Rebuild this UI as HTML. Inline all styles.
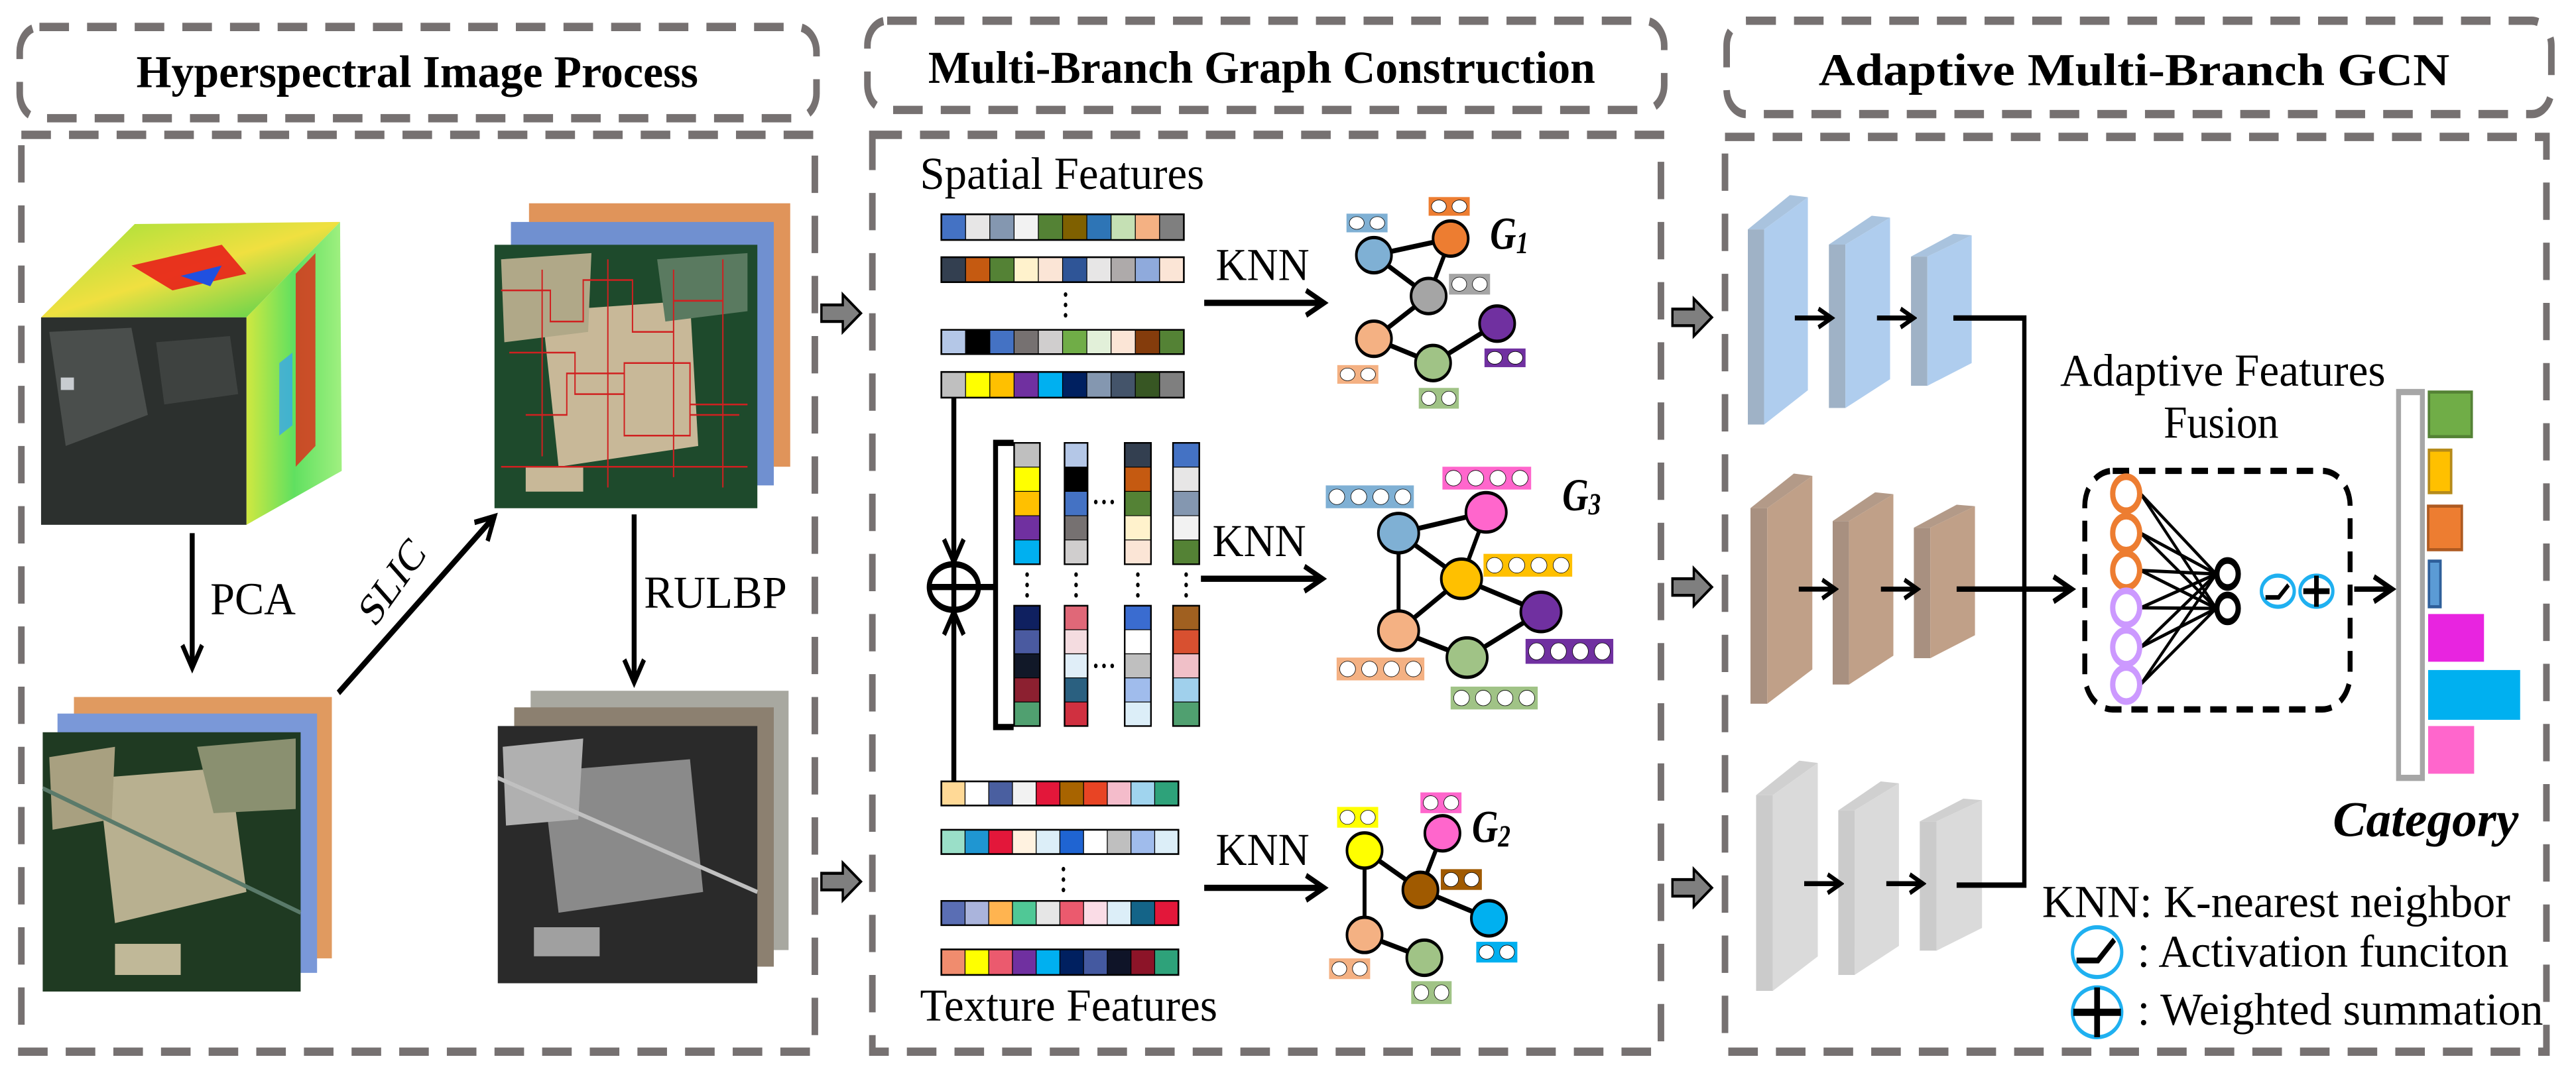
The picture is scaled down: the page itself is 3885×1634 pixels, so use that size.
<!DOCTYPE html>
<html><head><meta charset="utf-8"><style>
html,body{margin:0;padding:0;background:#fff;}
svg{display:block;}
text{font-family:"Liberation Serif",serif;}
</style></head><body>
<svg xmlns="http://www.w3.org/2000/svg" xmlns:xlink="http://www.w3.org/1999/xlink" width="3885" height="1634" viewBox="0 0 1568 659.5" preserveAspectRatio="none">
<defs>
<marker id="ah" markerUnits="userSpaceOnUse" markerWidth="16" markerHeight="16" refX="13" refY="8" orient="auto">
<path d="M2,2 L13,8 L2,14" fill="none" stroke="#000" stroke-width="2.6"/>
</marker>
<marker id="as" markerUnits="userSpaceOnUse" markerWidth="12" markerHeight="12" refX="10" refY="6" orient="auto">
<path d="M2,1.5 L10,6 L2,10.5" fill="none" stroke="#000" stroke-width="2.2"/>
</marker>
<linearGradient id="topg" x1="0" y1="0" x2="1" y2="1"><stop offset="0" stop-color="#9be23a"/><stop offset="0.5" stop-color="#f0e040"/><stop offset="1" stop-color="#3ad050"/></linearGradient>
<linearGradient id="rgtg" x1="0" y1="0" x2="1" y2="0"><stop offset="0" stop-color="#d0e840"/><stop offset="0.5" stop-color="#60e060"/><stop offset="1" stop-color="#a0f080"/></linearGradient>
<symbol id="bb" viewBox="0 0 100 100" preserveAspectRatio="none"><polygon points="0,15 70,0 100,1 27,15" fill="#a9c3de"/><polygon points="0,15 27,15 27,100 0,100" fill="#9fb2c6"/><polygon points="27,15 100,1 100,85 27,100" fill="#afcdee"/></symbol>
<symbol id="br" viewBox="0 0 100 100" preserveAspectRatio="none"><polygon points="0,15 70,0 100,1 27,15" fill="#b39a88"/><polygon points="0,15 27,15 27,100 0,100" fill="#a89080"/><polygon points="27,15 100,1 100,85 27,100" fill="#c0a088"/></symbol>
<symbol id="bg" viewBox="0 0 100 100" preserveAspectRatio="none"><polygon points="0,15 70,0 100,1 27,15" fill="#d0d0d0"/><polygon points="0,15 27,15 27,100 0,100" fill="#cbcbcb"/><polygon points="27,15 100,1 100,85 27,100" fill="#dadada"/></symbol>
<symbol id="l2" viewBox="0 0 2 1" preserveAspectRatio="none"><g fill="#fff" stroke="#000" stroke-width="0.8" vector-effect="non-scaling-stroke"><ellipse cx="0.5" cy="0.5" rx="0.36" ry="0.34" vector-effect="non-scaling-stroke"/><ellipse cx="1.5" cy="0.5" rx="0.36" ry="0.34" vector-effect="non-scaling-stroke"/></g></symbol>
<symbol id="l4" viewBox="0 0 4 1" preserveAspectRatio="none"><g fill="#fff" stroke="#000" stroke-width="0.8"><ellipse cx="0.5" cy="0.5" rx="0.36" ry="0.34" vector-effect="non-scaling-stroke"/><ellipse cx="1.5" cy="0.5" rx="0.36" ry="0.34" vector-effect="non-scaling-stroke"/><ellipse cx="2.5" cy="0.5" rx="0.36" ry="0.34" vector-effect="non-scaling-stroke"/><ellipse cx="3.5" cy="0.5" rx="0.36" ry="0.34" vector-effect="non-scaling-stroke"/></g></symbol>
</defs>
<g transform="scale(1,1.2632)">

<!-- panel frames -->
<g fill="none" stroke="#767171" stroke-width="4" stroke-dasharray="18 11">
<rect x="12" y="13" width="485" height="44" rx="12"/>
<rect x="13" y="65" width="483" height="442"/>
<rect x="528" y="10" width="485" height="43" rx="12"/>
<rect x="531" y="65" width="480" height="442"/>
<rect x="1051" y="10" width="502" height="45" rx="12"/>
<rect x="1050" y="66" width="500" height="441"/>
</g>
<g font-weight="bold" font-size="22">
<text x="83" y="42" textLength="342" lengthAdjust="spacingAndGlyphs">Hyperspectral Image Process</text>
<text x="565" y="40" textLength="406" lengthAdjust="spacingAndGlyphs">Multi-Branch Graph Construction</text>
<text x="1107" y="41" textLength="384" lengthAdjust="spacingAndGlyphs">Adaptive Multi-Branch GCN</text>
</g>

<!-- cube -->
<polygon points="25,153 82,108 207,107 150,153" fill="url(#topg)"/>
<polygon points="150,153 207,107 208,227 150,253" fill="url(#rgtg)"/>
<polygon points="80,128 135,118 150,132 105,140" fill="#e8201a" opacity="0.9"/>
<polygon points="110,133 135,128 128,138" fill="#2050e0"/>
<polygon points="180,132 192,122 192,215 180,225" fill="#e02818" opacity="0.8"/>
<polygon points="170,175 178,170 178,205 170,210" fill="#30a0ff" opacity="0.7"/>
<rect x="25" y="153" width="125" height="100" fill="#2c302e"/>
<polygon points="30,160 80,158 90,200 40,215" fill="#4a4e4c"/>
<polygon points="95,165 140,162 145,190 100,195" fill="#3e4240"/>
<rect x="37" y="182" width="8" height="6" fill="#c8ccd0"/>
<!-- bottom-left stack -->
<rect x="45" y="336" width="157" height="126" fill="#e09a60"/>
<rect x="35" y="344" width="158" height="125" fill="#7a98d8"/>
<rect x="26" y="353" width="157" height="125" fill="#1f3a22"/>
<polygon points="60,375 140,370 150,430 70,445" fill="#b8b090"/>
<polygon points="30,365 70,360 68,395 32,400" fill="#a8a080"/>
<polygon points="120,360 180,356 180,390 130,392" fill="#8a9070"/>
<rect x="70" y="455" width="40" height="15" fill="#c0b898"/>
<line x1="26" y1="380" x2="183" y2="440" stroke="#5a7a6a" stroke-width="2"/>
<!-- top-right stack -->
<rect x="322" y="98" width="159" height="127" fill="#e0945a"/>
<rect x="311" y="107" width="160" height="127" fill="#7090d0"/>
<rect x="301" y="118" width="160" height="127" fill="#1e4a2c"/>
<polygon points="330,150 420,145 425,215 340,225" fill="#c8b898"/>
<polygon points="305,125 360,122 358,160 307,165" fill="#b0a888"/>
<polygon points="400,125 455,122 455,150 405,155" fill="#5a7a60"/>
<rect x="320" y="225" width="35" height="12" fill="#c8b898"/>
<path fill="none" stroke="#d02020" stroke-width="0.8" d="M305,140 h30 v15 h20 v-20 h30 v25 h25 v-15 h30 M310,170 h40 v20 h30 v-15 h40 v25 h30 M320,200 h25 v-20 h35 v30 h40 v-15 h35 M330,130 v90 M370,125 v110 M410,130 v100 M440,125 v110 M305,225 h150"/>
<!-- gray stack -->
<rect x="323" y="333" width="157" height="125" fill="#a8a8a0"/>
<rect x="313" y="341" width="158" height="125" fill="#8c8070"/>
<rect x="303" y="350" width="158" height="124" fill="#2a2a2a"/>
<polygon points="330,372 420,366 428,430 340,440" fill="#8a8a8a"/>
<polygon points="306,360 355,356 352,395 308,398" fill="#b0b0b0"/>
<rect x="325" y="447" width="40" height="14" fill="#a0a0a0"/>
<line x1="303" y1="375" x2="461" y2="430" stroke="#c0c0c0" stroke-width="2"/>
<!-- panel1 arrows -->
<g stroke="#000" stroke-width="3" fill="none">
<line x1="117" y1="257" x2="117" y2="322" marker-end="url(#ah)"/>
<line x1="206" y1="334" x2="301" y2="249" marker-end="url(#ah)"/>
<line x1="386" y1="248" x2="386" y2="329" marker-end="url(#ah)"/>
</g>
<g font-size="22">
<text x="128" y="296" textLength="52" lengthAdjust="spacingAndGlyphs">PCA</text>
<text x="392" y="293" textLength="87" lengthAdjust="spacingAndGlyphs">RULBP</text>
<text transform="translate(228,303) rotate(-48)" textLength="48" lengthAdjust="spacingAndGlyphs">SLIC</text>
</g>

<!-- block arrows -->
<g fill="#7f7f7f" stroke="#000" stroke-width="1.4">
<polygon points="500,147 513,147 513,142 524,151 513,160 513,155 500,155"/>
<polygon points="500,421 513,421 513,416 524,425 513,434 513,429 500,429"/>
<polygon points="1018,149 1031,149 1031,144 1042,153 1031,162 1031,157 1018,157"/>
<polygon points="1018,279 1031,279 1031,274 1042,283 1031,292 1031,287 1018,287"/>
<polygon points="1018,424 1031,424 1031,419 1042,428 1031,437 1031,432 1018,432"/>
</g>

<!-- Panel 2 text -->
<g font-size="22">
<text x="560" y="91" textLength="173" lengthAdjust="spacingAndGlyphs">Spatial Features</text>
<text x="560" y="492" textLength="181" lengthAdjust="spacingAndGlyphs">Texture Features</text>
<text x="740" y="135" textLength="57" lengthAdjust="spacingAndGlyphs">KNN</text>
<text x="738" y="268" textLength="57" lengthAdjust="spacingAndGlyphs">KNN</text>
<text x="740" y="417" textLength="57" lengthAdjust="spacingAndGlyphs">KNN</text>
</g>
<g font-size="22" font-weight="bold" font-style="italic">
<text x="907" y="120">G<tspan font-size="15" dy="2">1</tspan></text>
<text x="951" y="246">G<tspan font-size="15" dy="2">3</tspan></text>
<text x="896" y="406">G<tspan font-size="15" dy="2">2</tspan></text>
</g>
<g stroke="#000" stroke-width="3" fill="none">
<line x1="733" y1="146" x2="806" y2="146" marker-end="url(#ah)"/>
<line x1="731" y1="279" x2="805" y2="279" marker-end="url(#ah)"/>
<line x1="733" y1="428" x2="806" y2="428" marker-end="url(#ah)"/>
<line x1="580.6" y1="192" x2="580.6" y2="271" marker-end="url(#ah)"/>
<line x1="580.6" y1="377" x2="580.6" y2="295" marker-end="url(#ah)"/>
<ellipse cx="580.6" cy="283" rx="15" ry="11"/>
<line x1="565.6" y1="283" x2="595.6" y2="283"/>
<line x1="580.6" y1="272" x2="580.6" y2="294"/>
<line x1="595.6" y1="283" x2="606" y2="283"/>
<polyline points="617,213.5 606,213.5 606,350.5 617,350.5"/>
</g>

<!-- feature rows -->
<g stroke="#000" stroke-width="1.2">
<svg x="573" y="103.3" width="147.6" height="12.4" viewBox="0 0 10 1" preserveAspectRatio="none" overflow="visible"><g vector-effect="non-scaling-stroke"><rect x="0" width="1" height="1" fill="#4472c4" vector-effect="non-scaling-stroke"/><rect x="1" width="1" height="1" fill="#e7e6e6" vector-effect="non-scaling-stroke"/><rect x="2" width="1" height="1" fill="#8497b0" vector-effect="non-scaling-stroke"/><rect x="3" width="1" height="1" fill="#f2f2f2" vector-effect="non-scaling-stroke"/><rect x="4" width="1" height="1" fill="#548235" vector-effect="non-scaling-stroke"/><rect x="5" width="1" height="1" fill="#7f6000" vector-effect="non-scaling-stroke"/><rect x="6" width="1" height="1" fill="#2e75b6" vector-effect="non-scaling-stroke"/><rect x="7" width="1" height="1" fill="#c5e0b4" vector-effect="non-scaling-stroke"/><rect x="8" width="1" height="1" fill="#f4b183" vector-effect="non-scaling-stroke"/><rect x="9" width="1" height="1" fill="#7f7f7f" vector-effect="non-scaling-stroke"/><rect width="10" height="1" fill="none" stroke-width="2.6" vector-effect="non-scaling-stroke"/></g></svg>
<svg x="573" y="124" width="147.6" height="12" viewBox="0 0 10 1" preserveAspectRatio="none" overflow="visible"><rect x="0" width="1" height="1" fill="#333f50" vector-effect="non-scaling-stroke"/><rect x="1" width="1" height="1" fill="#c55a11" vector-effect="non-scaling-stroke"/><rect x="2" width="1" height="1" fill="#548235" vector-effect="non-scaling-stroke"/><rect x="3" width="1" height="1" fill="#fff2cc" vector-effect="non-scaling-stroke"/><rect x="4" width="1" height="1" fill="#fbe5d6" vector-effect="non-scaling-stroke"/><rect x="5" width="1" height="1" fill="#2f5597" vector-effect="non-scaling-stroke"/><rect x="6" width="1" height="1" fill="#e7e6e6" vector-effect="non-scaling-stroke"/><rect x="7" width="1" height="1" fill="#aeaaaa" vector-effect="non-scaling-stroke"/><rect x="8" width="1" height="1" fill="#8faadc" vector-effect="non-scaling-stroke"/><rect x="9" width="1" height="1" fill="#fbe5d6" vector-effect="non-scaling-stroke"/><rect width="10" height="1" fill="none" stroke-width="2.6" vector-effect="non-scaling-stroke"/></svg>
<svg x="573" y="159" width="147.6" height="11.7" viewBox="0 0 10 1" preserveAspectRatio="none" overflow="visible"><rect x="0" width="1" height="1" fill="#b4c7e7" vector-effect="non-scaling-stroke"/><rect x="1" width="1" height="1" fill="#000" vector-effect="non-scaling-stroke"/><rect x="2" width="1" height="1" fill="#4472c4" vector-effect="non-scaling-stroke"/><rect x="3" width="1" height="1" fill="#767171" vector-effect="non-scaling-stroke"/><rect x="4" width="1" height="1" fill="#d0cece" vector-effect="non-scaling-stroke"/><rect x="5" width="1" height="1" fill="#70ad47" vector-effect="non-scaling-stroke"/><rect x="6" width="1" height="1" fill="#e2f0d9" vector-effect="non-scaling-stroke"/><rect x="7" width="1" height="1" fill="#fbe5d6" vector-effect="non-scaling-stroke"/><rect x="8" width="1" height="1" fill="#843c0c" vector-effect="non-scaling-stroke"/><rect x="9" width="1" height="1" fill="#548235" vector-effect="non-scaling-stroke"/><rect width="10" height="1" fill="none" stroke-width="2.6" vector-effect="non-scaling-stroke"/></svg>
<svg x="573" y="179.3" width="147.6" height="12.4" viewBox="0 0 10 1" preserveAspectRatio="none" overflow="visible"><rect x="0" width="1" height="1" fill="#bfbfbf" vector-effect="non-scaling-stroke"/><rect x="1" width="1" height="1" fill="#ffff00" vector-effect="non-scaling-stroke"/><rect x="2" width="1" height="1" fill="#ffc000" vector-effect="non-scaling-stroke"/><rect x="3" width="1" height="1" fill="#7030a0" vector-effect="non-scaling-stroke"/><rect x="4" width="1" height="1" fill="#00b0f0" vector-effect="non-scaling-stroke"/><rect x="5" width="1" height="1" fill="#002060" vector-effect="non-scaling-stroke"/><rect x="6" width="1" height="1" fill="#8497b0" vector-effect="non-scaling-stroke"/><rect x="7" width="1" height="1" fill="#44546a" vector-effect="non-scaling-stroke"/><rect x="8" width="1" height="1" fill="#375623" vector-effect="non-scaling-stroke"/><rect x="9" width="1" height="1" fill="#7f7f7f" vector-effect="non-scaling-stroke"/><rect width="10" height="1" fill="none" stroke-width="2.6" vector-effect="non-scaling-stroke"/></svg>
<svg x="573" y="376.7" width="144.3" height="11.6" viewBox="0 0 10 1" preserveAspectRatio="none" overflow="visible"><rect x="0" width="1" height="1" fill="#ffd996" vector-effect="non-scaling-stroke"/><rect x="1" width="1" height="1" fill="#ffffff" vector-effect="non-scaling-stroke"/><rect x="2" width="1" height="1" fill="#4a5fa0" vector-effect="non-scaling-stroke"/><rect x="3" width="1" height="1" fill="#f2f2f2" vector-effect="non-scaling-stroke"/><rect x="4" width="1" height="1" fill="#e3173a" vector-effect="non-scaling-stroke"/><rect x="5" width="1" height="1" fill="#a86400" vector-effect="non-scaling-stroke"/><rect x="6" width="1" height="1" fill="#e84424" vector-effect="non-scaling-stroke"/><rect x="7" width="1" height="1" fill="#f4bccb" vector-effect="non-scaling-stroke"/><rect x="8" width="1" height="1" fill="#a0d4ee" vector-effect="non-scaling-stroke"/><rect x="9" width="1" height="1" fill="#2ea27a" vector-effect="non-scaling-stroke"/><rect width="10" height="1" fill="none" stroke-width="2.6" vector-effect="non-scaling-stroke"/></svg>
<svg x="573" y="400" width="144.3" height="11.7" viewBox="0 0 10 1" preserveAspectRatio="none" overflow="visible"><rect x="0" width="1" height="1" fill="#9adfc8" vector-effect="non-scaling-stroke"/><rect x="1" width="1" height="1" fill="#1f96d2" vector-effect="non-scaling-stroke"/><rect x="2" width="1" height="1" fill="#e3173a" vector-effect="non-scaling-stroke"/><rect x="3" width="1" height="1" fill="#fff2e0" vector-effect="non-scaling-stroke"/><rect x="4" width="1" height="1" fill="#dceef8" vector-effect="non-scaling-stroke"/><rect x="5" width="1" height="1" fill="#1f64d2" vector-effect="non-scaling-stroke"/><rect x="6" width="1" height="1" fill="#ffffff" vector-effect="non-scaling-stroke"/><rect x="7" width="1" height="1" fill="#bfbfbf" vector-effect="non-scaling-stroke"/><rect x="8" width="1" height="1" fill="#a0bcec" vector-effect="non-scaling-stroke"/><rect x="9" width="1" height="1" fill="#dceef8" vector-effect="non-scaling-stroke"/><rect width="10" height="1" fill="none" stroke-width="2.6" vector-effect="non-scaling-stroke"/></svg>
<svg x="573" y="434.3" width="144.3" height="11.7" viewBox="0 0 10 1" preserveAspectRatio="none" overflow="visible"><rect x="0" width="1" height="1" fill="#5a6eb4" vector-effect="non-scaling-stroke"/><rect x="1" width="1" height="1" fill="#aab4dc" vector-effect="non-scaling-stroke"/><rect x="2" width="1" height="1" fill="#ffb450" vector-effect="non-scaling-stroke"/><rect x="3" width="1" height="1" fill="#50c896" vector-effect="non-scaling-stroke"/><rect x="4" width="1" height="1" fill="#e6e6e6" vector-effect="non-scaling-stroke"/><rect x="5" width="1" height="1" fill="#eb5a6e" vector-effect="non-scaling-stroke"/><rect x="6" width="1" height="1" fill="#fadce6" vector-effect="non-scaling-stroke"/><rect x="7" width="1" height="1" fill="#dceef8" vector-effect="non-scaling-stroke"/><rect x="8" width="1" height="1" fill="#146488" vector-effect="non-scaling-stroke"/><rect x="9" width="1" height="1" fill="#e3173a" vector-effect="non-scaling-stroke"/><rect width="10" height="1" fill="none" stroke-width="2.6" vector-effect="non-scaling-stroke"/></svg>
<svg x="573" y="457.7" width="144.3" height="12.3" viewBox="0 0 10 1" preserveAspectRatio="none" overflow="visible"><rect x="0" width="1" height="1" fill="#f08c6e" vector-effect="non-scaling-stroke"/><rect x="1" width="1" height="1" fill="#ffff00" vector-effect="non-scaling-stroke"/><rect x="2" width="1" height="1" fill="#eb5a6e" vector-effect="non-scaling-stroke"/><rect x="3" width="1" height="1" fill="#7030a0" vector-effect="non-scaling-stroke"/><rect x="4" width="1" height="1" fill="#00b0f0" vector-effect="non-scaling-stroke"/><rect x="5" width="1" height="1" fill="#002060" vector-effect="non-scaling-stroke"/><rect x="6" width="1" height="1" fill="#4459a0" vector-effect="non-scaling-stroke"/><rect x="7" width="1" height="1" fill="#0f1428" vector-effect="non-scaling-stroke"/><rect x="8" width="1" height="1" fill="#8c1428" vector-effect="non-scaling-stroke"/><rect x="9" width="1" height="1" fill="#2ea27a" vector-effect="non-scaling-stroke"/><rect width="10" height="1" fill="none" stroke-width="2.6" vector-effect="non-scaling-stroke"/></svg>

<!-- columns -->
<svg x="617.3" y="213.5" width="15.7" height="58.5" viewBox="0 0 1 5" preserveAspectRatio="none" overflow="visible"><rect y="0" width="1" height="1" fill="#bfbfbf" vector-effect="non-scaling-stroke"/><rect y="1" width="1" height="1" fill="#ffff00" vector-effect="non-scaling-stroke"/><rect y="2" width="1" height="1" fill="#ffc000" vector-effect="non-scaling-stroke"/><rect y="3" width="1" height="1" fill="#7030a0" vector-effect="non-scaling-stroke"/><rect y="4" width="1" height="1" fill="#00b0f0" vector-effect="non-scaling-stroke"/><rect width="1" height="5" fill="none" stroke-width="2.4" vector-effect="non-scaling-stroke"/></svg>
<svg x="617.3" y="292" width="15.7" height="58" viewBox="0 0 1 5" preserveAspectRatio="none" overflow="visible"><rect y="0" width="1" height="1" fill="#0f2060" vector-effect="non-scaling-stroke"/><rect y="1" width="1" height="1" fill="#4a5aa0" vector-effect="non-scaling-stroke"/><rect y="2" width="1" height="1" fill="#111828" vector-effect="non-scaling-stroke"/><rect y="3" width="1" height="1" fill="#8c2030" vector-effect="non-scaling-stroke"/><rect y="4" width="1" height="1" fill="#50a070" vector-effect="non-scaling-stroke"/><rect width="1" height="5" fill="none" stroke-width="2.4" vector-effect="non-scaling-stroke"/></svg>
<svg x="648" y="213.5" width="14" height="58.5" viewBox="0 0 1 5" preserveAspectRatio="none" overflow="visible"><rect y="0" width="1" height="1" fill="#b4c7e7" vector-effect="non-scaling-stroke"/><rect y="1" width="1" height="1" fill="#000" vector-effect="non-scaling-stroke"/><rect y="2" width="1" height="1" fill="#4472c4" vector-effect="non-scaling-stroke"/><rect y="3" width="1" height="1" fill="#767171" vector-effect="non-scaling-stroke"/><rect y="4" width="1" height="1" fill="#d0cece" vector-effect="non-scaling-stroke"/><rect width="1" height="5" fill="none" stroke-width="2.4" vector-effect="non-scaling-stroke"/></svg>
<svg x="648" y="292" width="14" height="58" viewBox="0 0 1 5" preserveAspectRatio="none" overflow="visible"><rect y="0" width="1" height="1" fill="#e06878" vector-effect="non-scaling-stroke"/><rect y="1" width="1" height="1" fill="#f4dce0" vector-effect="non-scaling-stroke"/><rect y="2" width="1" height="1" fill="#e0eef8" vector-effect="non-scaling-stroke"/><rect y="3" width="1" height="1" fill="#2a6080" vector-effect="non-scaling-stroke"/><rect y="4" width="1" height="1" fill="#d03040" vector-effect="non-scaling-stroke"/><rect width="1" height="5" fill="none" stroke-width="2.4" vector-effect="non-scaling-stroke"/></svg>
<svg x="684.6" y="213.5" width="16" height="58.5" viewBox="0 0 1 5" preserveAspectRatio="none" overflow="visible"><rect y="0" width="1" height="1" fill="#333f50" vector-effect="non-scaling-stroke"/><rect y="1" width="1" height="1" fill="#c55a11" vector-effect="non-scaling-stroke"/><rect y="2" width="1" height="1" fill="#548235" vector-effect="non-scaling-stroke"/><rect y="3" width="1" height="1" fill="#fff2cc" vector-effect="non-scaling-stroke"/><rect y="4" width="1" height="1" fill="#fbe5d6" vector-effect="non-scaling-stroke"/><rect width="1" height="5" fill="none" stroke-width="2.4" vector-effect="non-scaling-stroke"/></svg>
<svg x="684.6" y="292" width="16" height="58" viewBox="0 0 1 5" preserveAspectRatio="none" overflow="visible"><rect y="0" width="1" height="1" fill="#3a6cd0" vector-effect="non-scaling-stroke"/><rect y="1" width="1" height="1" fill="#ffffff" vector-effect="non-scaling-stroke"/><rect y="2" width="1" height="1" fill="#bfbfbf" vector-effect="non-scaling-stroke"/><rect y="3" width="1" height="1" fill="#a0bcec" vector-effect="non-scaling-stroke"/><rect y="4" width="1" height="1" fill="#dceef8" vector-effect="non-scaling-stroke"/><rect width="1" height="5" fill="none" stroke-width="2.4" vector-effect="non-scaling-stroke"/></svg>
<svg x="714" y="213.5" width="16" height="58.5" viewBox="0 0 1 5" preserveAspectRatio="none" overflow="visible"><rect y="0" width="1" height="1" fill="#4472c4" vector-effect="non-scaling-stroke"/><rect y="1" width="1" height="1" fill="#e7e6e6" vector-effect="non-scaling-stroke"/><rect y="2" width="1" height="1" fill="#8497b0" vector-effect="non-scaling-stroke"/><rect y="3" width="1" height="1" fill="#f2f2f2" vector-effect="non-scaling-stroke"/><rect y="4" width="1" height="1" fill="#548235" vector-effect="non-scaling-stroke"/><rect width="1" height="5" fill="none" stroke-width="2.4" vector-effect="non-scaling-stroke"/></svg>
<svg x="714" y="292" width="16" height="58" viewBox="0 0 1 5" preserveAspectRatio="none" overflow="visible"><rect y="0" width="1" height="1" fill="#a06020" vector-effect="non-scaling-stroke"/><rect y="1" width="1" height="1" fill="#d85030" vector-effect="non-scaling-stroke"/><rect y="2" width="1" height="1" fill="#f0c0c8" vector-effect="non-scaling-stroke"/><rect y="3" width="1" height="1" fill="#a0d0ec" vector-effect="non-scaling-stroke"/><rect y="4" width="1" height="1" fill="#50a070" vector-effect="non-scaling-stroke"/><rect width="1" height="5" fill="none" stroke-width="2.4" vector-effect="non-scaling-stroke"/></svg>
</g>
<!-- dots -->
<g fill="#000">
<circle cx="625.2" cy="277" r="1.1"/><circle cx="625.2" cy="282" r="1.1"/><circle cx="625.2" cy="287" r="1.1"/>
<circle cx="655" cy="277" r="1.1"/><circle cx="655" cy="282" r="1.1"/><circle cx="655" cy="287" r="1.1"/>
<circle cx="692.6" cy="277" r="1.1"/><circle cx="692.6" cy="282" r="1.1"/><circle cx="692.6" cy="287" r="1.1"/>
<circle cx="722" cy="277" r="1.1"/><circle cx="722" cy="282" r="1.1"/><circle cx="722" cy="287" r="1.1"/>
<circle cx="648.6" cy="142" r="1.1"/><circle cx="648.6" cy="147" r="1.1"/><circle cx="648.6" cy="152" r="1.1"/>
<circle cx="647.3" cy="419" r="1.1"/><circle cx="647.3" cy="424" r="1.1"/><circle cx="647.3" cy="429" r="1.1"/>
<circle cx="667" cy="242" r="1.1"/><circle cx="672" cy="242" r="1.1"/><circle cx="677" cy="242" r="1.1"/>
<circle cx="667" cy="321" r="1.1"/><circle cx="672" cy="321" r="1.1"/><circle cx="677" cy="321" r="1.1"/>
</g>

<!-- graph edges -->
<g stroke="#000" stroke-width="2.4">
<line x1="836.3" y1="123" x2="883" y2="115"/><line x1="883" y1="115" x2="869.6" y2="142.7"/><line x1="836.3" y1="123" x2="869.6" y2="142.7"/><line x1="869.6" y1="142.7" x2="836.3" y2="163.3"/><line x1="836.3" y1="163.3" x2="872.3" y2="175"/><line x1="872.3" y1="175" x2="911.3" y2="156"/>
<line x1="851.3" y1="257" x2="904.6" y2="247"/><line x1="904.6" y1="247" x2="889.6" y2="279"/><line x1="851.3" y1="257" x2="889.6" y2="279"/><line x1="851.3" y1="257" x2="851.3" y2="304"/><line x1="889.6" y1="279" x2="851.3" y2="304"/><line x1="889.6" y1="279" x2="938" y2="295"/><line x1="851.3" y1="304" x2="893" y2="317"/><line x1="893" y1="317" x2="938" y2="295"/>
<line x1="830.6" y1="410" x2="864.6" y2="429"/><line x1="878" y1="401.7" x2="864.6" y2="429"/><line x1="830.6" y1="410" x2="830.6" y2="450.7"/><line x1="864.6" y1="429" x2="906.3" y2="442.7"/><line x1="830.6" y1="450.7" x2="867" y2="461.7"/>
</g>
<g stroke="#000" stroke-width="1.6">
<ellipse cx="836.3" cy="123" rx="10.7" ry="8.5" fill="#7fb0d4"/><ellipse cx="883" cy="115" rx="10.7" ry="8.5" fill="#ed7d31"/><ellipse cx="869.6" cy="142.7" rx="10.7" ry="8.5" fill="#a5a5a5"/><ellipse cx="836.3" cy="163.3" rx="10.7" ry="8.5" fill="#f4b183"/><ellipse cx="872.3" cy="175" rx="10.7" ry="8.5" fill="#a0c386"/><ellipse cx="911.3" cy="156" rx="10.7" ry="8.5" fill="#7030a0"/>
<ellipse cx="851.3" cy="257" rx="12.3" ry="9.5" fill="#7fb0d4"/><ellipse cx="904.6" cy="247" rx="12.3" ry="9.5" fill="#ff66cc"/><ellipse cx="889.6" cy="279" rx="12.3" ry="9.5" fill="#ffc000"/><ellipse cx="938" cy="295" rx="12.3" ry="9.5" fill="#7030a0"/><ellipse cx="851.3" cy="304" rx="12.3" ry="9.5" fill="#f4b183"/><ellipse cx="893" cy="317" rx="12.3" ry="9.5" fill="#a0c386"/>
<ellipse cx="830.6" cy="410" rx="10.7" ry="8.5" fill="#ffff00"/><ellipse cx="878" cy="401.7" rx="10.7" ry="8.5" fill="#ff66cc"/><ellipse cx="864.6" cy="429" rx="10.7" ry="8.5" fill="#a05a00"/><ellipse cx="906.3" cy="442.7" rx="10.7" ry="8.5" fill="#00b0f0"/><ellipse cx="830.6" cy="450.7" rx="10.7" ry="8.5" fill="#f4b183"/><ellipse cx="867" cy="461.7" rx="10.7" ry="8.5" fill="#a0c386"/>
</g>
<!-- label boxes -->
<rect x="819.6" y="103" width="25" height="9" fill="#7fb0d4"/><use xlink:href="#l2" x="819.6" y="103" width="25" height="9"/>
<rect x="869.6" y="95" width="25" height="9" fill="#ed7d31"/><use xlink:href="#l2" x="869.6" y="95" width="25" height="9"/>
<rect x="882" y="132" width="25" height="10" fill="#a5a5a5"/><use xlink:href="#l2" x="882" y="132" width="25" height="10"/>
<rect x="814" y="176" width="25" height="9" fill="#f4b183"/><use xlink:href="#l2" x="814" y="176" width="25" height="9"/>
<rect x="863.6" y="187" width="24.4" height="10" fill="#a0c386"/><use xlink:href="#l2" x="863.6" y="187" width="24.4" height="10"/>
<rect x="903.6" y="168" width="25" height="9" fill="#7030a0"/><use xlink:href="#l2" x="903.6" y="168" width="25" height="9"/>
<rect x="807" y="234" width="53.6" height="11" fill="#7fb0d4"/><use xlink:href="#l4" x="807" y="234" width="53.6" height="11"/>
<rect x="878" y="225" width="54" height="11" fill="#ff66cc"/><use xlink:href="#l4" x="878" y="225" width="54" height="11"/>
<rect x="903" y="267" width="54" height="11" fill="#ffc000"/><use xlink:href="#l4" x="903" y="267" width="54" height="11"/>
<rect x="928.6" y="308" width="53.4" height="12" fill="#7030a0"/><use xlink:href="#l4" x="928.6" y="308" width="53.4" height="12"/>
<rect x="813.6" y="317" width="53.4" height="11" fill="#f4b183"/><use xlink:href="#l4" x="813.6" y="317" width="53.4" height="11"/>
<rect x="883" y="331" width="53" height="11" fill="#a0c386"/><use xlink:href="#l4" x="883" y="331" width="53" height="11"/>
<rect x="813.9" y="389" width="25" height="10" fill="#ffff00"/><use xlink:href="#l2" x="813.9" y="389" width="25" height="10"/>
<rect x="864.6" y="382" width="25" height="10" fill="#ff66cc"/><use xlink:href="#l2" x="864.6" y="382" width="25" height="10"/>
<rect x="877" y="419" width="25" height="10" fill="#a05a00"/><use xlink:href="#l2" x="877" y="419" width="25" height="10"/>
<rect x="898.6" y="454" width="25" height="10" fill="#00b0f0"/><use xlink:href="#l2" x="898.6" y="454" width="25" height="10"/>
<rect x="809" y="462" width="25" height="10" fill="#f4b183"/><use xlink:href="#l2" x="809" y="462" width="25" height="10"/>
<rect x="859" y="473" width="24.6" height="11" fill="#a0c386"/><use xlink:href="#l2" x="859" y="473" width="24.6" height="11"/>

<!-- Panel 3 blocks -->
<use xlink:href="#bb" x="1063.9" y="94" width="36.6" height="110.7"/>
<use xlink:href="#bb" x="1113.2" y="104" width="37.3" height="92.7"/>
<use xlink:href="#bb" x="1163.2" y="112.7" width="37" height="73.3"/>
<use xlink:href="#br" x="1065.5" y="228.3" width="37.7" height="111"/>
<use xlink:href="#br" x="1115.5" y="237.3" width="37" height="92.7"/>
<use xlink:href="#br" x="1164.9" y="243.3" width="37.3" height="74"/>
<use xlink:href="#bg" x="1068.9" y="366.7" width="37.6" height="111"/>
<use xlink:href="#bg" x="1118.9" y="376.7" width="37" height="93.3"/>
<use xlink:href="#bg" x="1168.5" y="385" width="38" height="73.3"/>
<g stroke="#000" stroke-width="2.4">
<line x1="1092.5" y1="153.3" x2="1114.9" y2="153.3" marker-end="url(#as)"/>
<line x1="1142.5" y1="153.3" x2="1164.9" y2="153.3" marker-end="url(#as)"/>
<line x1="1094.9" y1="284" x2="1117.2" y2="284" marker-end="url(#as)"/>
<line x1="1144.9" y1="284" x2="1167.2" y2="284" marker-end="url(#as)"/>
<line x1="1098.2" y1="426" x2="1120.5" y2="426" marker-end="url(#as)"/>
<line x1="1148.2" y1="426" x2="1170.5" y2="426" marker-end="url(#as)"/>
</g>
<g stroke="#000" stroke-width="2.6" fill="none">
<polyline points="1189,153.3 1232.2,153.3 1232.2,426.7 1191,426.7"/>
<line x1="1191" y1="284" x2="1261" y2="284" marker-end="url(#ah)"/>
<line x1="1433" y1="284" x2="1456" y2="284" marker-end="url(#ah)"/>
<rect x="1269" y="227" width="161.5" height="115" rx="17" stroke-width="3" stroke-dasharray="10 6"/>
</g>
<g font-size="22">
<text x="1254" y="186" textLength="198" lengthAdjust="spacingAndGlyphs">Adaptive Features</text>
<text x="1317" y="211" textLength="70" lengthAdjust="spacingAndGlyphs">Fusion</text>
<text x="1243" y="442" textLength="285" lengthAdjust="spacingAndGlyphs">KNN: K-nearest neighbor</text>
<text x="1301" y="466" textLength="226" lengthAdjust="spacingAndGlyphs">: Activation funciton</text>
<text x="1301" y="494" textLength="247" lengthAdjust="spacingAndGlyphs">: Weighted summation</text>
</g>
<text x="1420" y="403" font-size="24" font-weight="bold" font-style="italic" textLength="113" lengthAdjust="spacingAndGlyphs">Category</text>
<!-- category bars -->
<rect x="1460" y="189" width="14.5" height="186" fill="#fff" stroke="#a6a6a6" stroke-width="3"/>
<rect x="1478.5" y="189" width="26" height="21.5" fill="#70ad47" stroke="#548235" stroke-width="1.5"/>
<rect x="1478.5" y="217" width="13.5" height="20.5" fill="#ffc000" stroke="#b58a1a" stroke-width="1.5"/>
<rect x="1478" y="244" width="20.5" height="21" fill="#ed7d31" stroke="#ae5a21" stroke-width="1.5"/>
<rect x="1478.5" y="270.5" width="7" height="22" fill="#5b9bd5" stroke="#2e5f9a" stroke-width="1.5"/>
<rect x="1478" y="296" width="34" height="23" fill="#e824e0"/>
<rect x="1478" y="323" width="56" height="24" fill="#00b0f0"/>
<rect x="1478" y="350" width="28" height="23" fill="#ff66cc"/>
<!-- legend icons -->
<g fill="none" stroke-width="2">
<ellipse cx="1276.5" cy="459" rx="15" ry="12" stroke="#1fb0f0"/>
<polyline points="1264,463 1277,463 1287,453" stroke="#000" stroke-width="2.8"/>
<ellipse cx="1276.5" cy="488" rx="15" ry="12" stroke="#1fb0f0"/>
<line x1="1262" y1="488" x2="1291" y2="488" stroke="#000" stroke-width="3.5"/>
<line x1="1276.5" y1="476" x2="1276.5" y2="500" stroke="#000" stroke-width="3.5"/>
<ellipse cx="1386.5" cy="285" rx="10" ry="7.5" stroke="#1fb0f0"/>
<polyline points="1379,288 1387,288 1393,282" stroke="#000" stroke-width="2.2"/>
<ellipse cx="1410" cy="285" rx="10" ry="7.5" stroke="#1fb0f0"/>
<line x1="1402" y1="285" x2="1418" y2="285" stroke="#000" stroke-width="2.8"/>
<line x1="1410" y1="277.5" x2="1410" y2="292.5" stroke="#000" stroke-width="2.8"/>
</g>
<!-- fusion net -->
<g stroke="#000" stroke-width="1.6">
<line x1="1303" y1="238" x2="1349" y2="276.7"/><line x1="1303" y1="238" x2="1349" y2="293.3"/>
<line x1="1303" y1="257" x2="1349" y2="276.7"/><line x1="1303" y1="257" x2="1349" y2="293.3"/>
<line x1="1303" y1="275" x2="1349" y2="276.7"/><line x1="1303" y1="275" x2="1349" y2="293.3"/>
<line x1="1303" y1="293" x2="1349" y2="276.7"/><line x1="1303" y1="293" x2="1349" y2="293.3"/>
<line x1="1303" y1="312" x2="1349" y2="276.7"/><line x1="1303" y1="312" x2="1349" y2="293.3"/>
<line x1="1303" y1="330" x2="1349" y2="276.7"/><line x1="1303" y1="330" x2="1349" y2="293.3"/>
</g>
<g fill="#fff" stroke-width="3.2">
<circle cx="1294.2" cy="238" r="8.2" stroke="#ed7d31"/><circle cx="1294.2" cy="257" r="8.2" stroke="#ed7d31"/><circle cx="1294.2" cy="275" r="8.2" stroke="#ed7d31"/>
<circle cx="1294.2" cy="293" r="8.2" stroke="#cc99ff"/><circle cx="1294.2" cy="312" r="8.2" stroke="#cc99ff"/><circle cx="1294.2" cy="330" r="8.2" stroke="#cc99ff"/>
<circle cx="1355.9" cy="276.7" r="6.5" stroke="#000"/><circle cx="1355.9" cy="293.3" r="6.5" stroke="#000"/>
</g>
</g>
</svg>
</body></html>
